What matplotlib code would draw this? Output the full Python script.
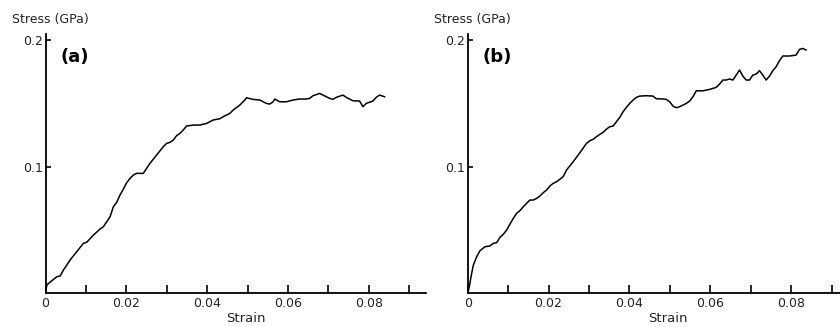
import numpy as np
import matplotlib
matplotlib.use("Agg")
import matplotlib.pyplot as plt
from matplotlib.ticker import MultipleLocator, FixedLocator

plt.rcParams.update({'font.family': 'DejaVu Sans', 'font.size': 9})

# panel (a): strain / stress (GPa)
strain_a = [0, 0.00033, 0.00099, 0.00181, 0.0028, 0.00362, 0.00444, 0.00527, 0.00609,
            0.00774, 0.00938, 0.0102, 0.01185, 0.0135, 0.01432, 0.01597, 0.01679, 0.01761,
            0.01844, 0.01926, 0.02008, 0.0209, 0.02173, 0.02255, 0.0242, 0.02502, 0.02584,
            0.02749, 0.02914, 0.02996, 0.03078, 0.0316, 0.03243, 0.03325, 0.03407, 0.0349,
            0.03654, 0.03819, 0.03984, 0.04148, 0.04313, 0.04395, 0.0456, 0.04642, 0.04807,
            0.0493, 0.04971, 0.05136, 0.053, 0.05465, 0.05547, 0.0563, 0.05671, 0.05794,
            0.05959, 0.06123, 0.06288, 0.06453, 0.06535, 0.06617, 0.06782, 0.06864, 0.07029,
            0.07111, 0.07193, 0.07358, 0.0744, 0.07605, 0.0777, 0.07852, 0.07934, 0.08099,
            0.08181, 0.08263, 0.08387]
stress_a = [0, 0.0063, 0.0082, 0.0103, 0.0129, 0.0134, 0.0182, 0.0221, 0.0261,
            0.0327, 0.0393, 0.0401, 0.0458, 0.0506, 0.0524, 0.0603, 0.0682, 0.0717,
            0.0775, 0.0822, 0.0872, 0.0906, 0.0933, 0.0946, 0.0946, 0.0986, 0.1025,
            0.1091, 0.1157, 0.1183, 0.1191, 0.1209, 0.1244, 0.1262, 0.1289, 0.1320,
            0.1328, 0.1328, 0.1341, 0.1368, 0.1378, 0.1394, 0.1420, 0.1447, 0.1486,
            0.1526, 0.1544, 0.1531, 0.1526, 0.1499, 0.1494, 0.1512, 0.1534, 0.1512,
            0.1512, 0.1526, 0.1534, 0.1534, 0.1539, 0.1560, 0.1578, 0.1565, 0.1539,
            0.1531, 0.1547, 0.1565, 0.1547, 0.1520, 0.1518, 0.1473, 0.1499, 0.1518,
            0.1547, 0.1565, 0.1552]

# panel (b)
strain_b = [0, 0.00041, 0.00082, 0.0014, 0.00222, 0.00305, 0.00428, 0.00551, 0.00634,
            0.00716, 0.00798, 0.00881, 0.00963, 0.01045, 0.01128, 0.0121, 0.01292, 0.01374,
            0.01457, 0.01539, 0.01621, 0.01704, 0.01786, 0.01868, 0.01951, 0.02033, 0.02115,
            0.02198, 0.0228, 0.02362, 0.02444, 0.02609, 0.02774, 0.02938, 0.03021, 0.03103,
            0.03185, 0.03267, 0.0335, 0.03432, 0.03514, 0.03597, 0.03679, 0.03761, 0.03844,
            0.03926, 0.04008, 0.04091, 0.04173, 0.04255, 0.0442, 0.04584, 0.04667, 0.04831,
            0.04914, 0.04996, 0.05078, 0.0516, 0.05243, 0.05407, 0.0549, 0.05572, 0.05654,
            0.05819, 0.05984, 0.06066, 0.06148, 0.0623, 0.06313, 0.06395, 0.06477, 0.0656,
            0.06642, 0.06724, 0.06807, 0.06889, 0.06971, 0.07053, 0.07136, 0.07218, 0.073,
            0.07383, 0.07465, 0.07547, 0.0763, 0.07712, 0.07794, 0.07959, 0.08123, 0.08206,
            0.08288, 0.0837]
stress_b = [0, 0.0050, 0.0129, 0.0221, 0.0287, 0.0335, 0.0366, 0.0372, 0.0393,
            0.0398, 0.0440, 0.0464, 0.0498, 0.0545, 0.0590, 0.0630, 0.0651, 0.0682,
            0.0709, 0.0735, 0.0735, 0.0748, 0.0767, 0.0793, 0.0814, 0.0846, 0.0867,
            0.0880, 0.0899, 0.0920, 0.0972, 0.1038, 0.1109, 0.1183, 0.1204, 0.1215,
            0.1236, 0.1254, 0.1270, 0.1296, 0.1315, 0.1320, 0.1354, 0.1389, 0.1433,
            0.1468, 0.1499, 0.1526, 0.1547, 0.1557, 0.1560, 0.1557, 0.1536, 0.1534,
            0.1531, 0.1512, 0.1478, 0.1465, 0.1473, 0.1499, 0.1518, 0.1552, 0.1599,
            0.1599, 0.1610, 0.1618, 0.1626, 0.1652, 0.1684, 0.1684, 0.1692, 0.1684,
            0.1723, 0.1763, 0.1715, 0.1684, 0.1684, 0.1723, 0.1731, 0.1758, 0.1723,
            0.1684, 0.1715, 0.1758, 0.1789, 0.1837, 0.1874, 0.1874, 0.1881, 0.1926,
            0.1934, 0.1921]

x_labels = ['0', '0.02', '0.04', '0.06', '0.08']
panels = [('(a)', strain_a, stress_a), ('(b)', strain_b, stress_b)]

W, H = 840, 327
fig = plt.figure(figsize=(W / 100, H / 100), dpi=100)

lefts = [45.5, 467.7]  # px
for (tag, xs, ys), left in zip(panels, lefts):
    ax = fig.add_axes([left / W, 34 / H, 380 / W, 259 / H])
    ax.plot(xs, ys, color='black', lw=1.1)
    ax.set_xlim(0, 0.094)
    ax.set_ylim(0, 0.2048)
    for s in ['top', 'right']:
        ax.spines[s].set_visible(False)
    for s in ['left', 'bottom']:
        ax.spines[s].set_linewidth(1.3)
    ax.xaxis.set_major_locator(FixedLocator([0, 0.02, 0.04, 0.06, 0.08]))
    ax.set_xticklabels(x_labels)
    ax.xaxis.set_minor_locator(FixedLocator([0.01, 0.03, 0.05, 0.07, 0.09]))
    ax.yaxis.set_major_locator(FixedLocator([0.1, 0.2]))
    ax.set_yticklabels(['0.1', '0.2'])
    ax.tick_params(axis='x', which='both', direction='in', length=6, width=1.2, pad=3,
                   labelsize=9, labelcolor='#222222')
    ax.tick_params(axis='y', direction='in', length=3.5, width=1.2, pad=2,
                   labelsize=9, labelcolor='#222222')
    ax.text(0.04, 0.91, tag, transform=ax.transAxes, fontsize=13, fontweight='bold',
            ha='left', va='center')
    fig.text((left - 34) / W, 1 - 20 / H, 'Stress (GPa)', ha='left', va='center',
             fontsize=9, color='#222222')
    fig.text((left + 200) / W, 1 - 319 / H, 'Strain', ha='center', va='center',
             fontsize=9.5, color='#222222')

fig.savefig('out.png', dpi=100)
